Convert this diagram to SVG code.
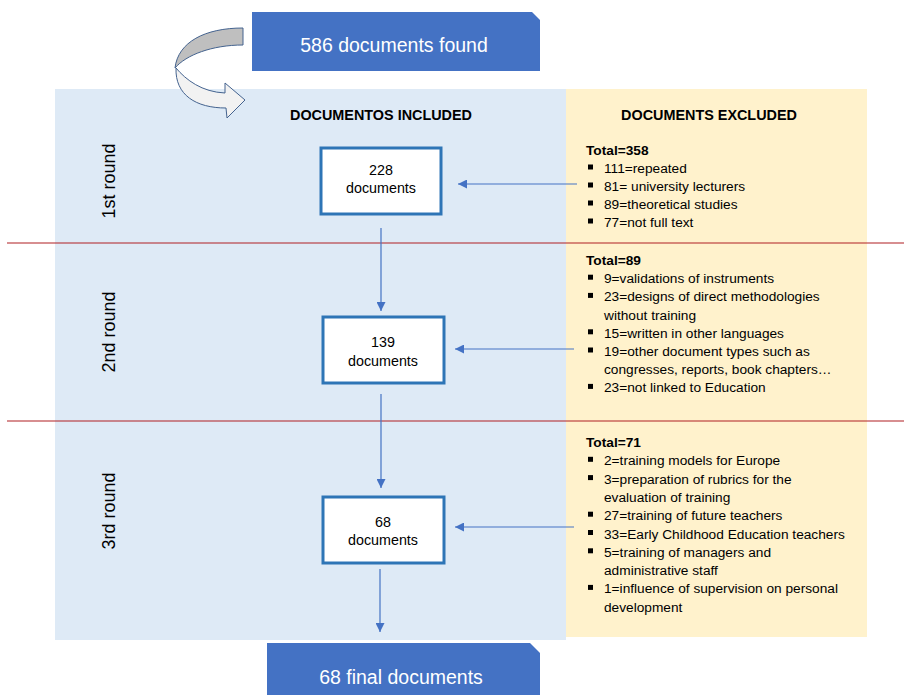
<svg xmlns="http://www.w3.org/2000/svg" width="904" height="695" viewBox="0 0 904 695">
<defs>
<style>
.hdr{font-family:"Liberation Sans",Arial,sans-serif;font-weight:bold;font-size:14.4px;fill:#000;text-anchor:middle}
.big{font-family:"Liberation Sans",Arial,sans-serif;font-size:19.5px;fill:#fff;text-anchor:middle}
.rnd{font-family:"Liberation Sans",Arial,sans-serif;font-size:18px;fill:#000;text-anchor:middle}
.box{fill:#fff;stroke:#2E75B6;stroke-width:3}
.bt{font-family:"Liberation Sans",Arial,sans-serif;font-size:14.3px;fill:#000;text-anchor:middle}
.lt{font-family:"Liberation Sans",Arial,sans-serif;font-size:13.7px;fill:#000}
.tot{font-weight:bold}
.conn{stroke:#4472C4;stroke-width:1.2;fill:none;marker-end:url(#ah)}
.red{stroke:#B01E22;stroke-width:1.2}
</style>
<marker id="ah" markerUnits="userSpaceOnUse" markerWidth="9" markerHeight="9" refX="9" refY="4.5" orient="auto">
<path d="M0,0 L9,4.5 L0,9 Z" fill="#4472C4"/>
</marker>
<symbol id="bl" overflow="visible"><rect x="0" y="-8.5" width="5" height="5" fill="#000"/></symbol>
</defs>
<rect width="904" height="695" fill="#fff"/>
<rect x="55" y="89" width="511" height="551" fill="#DEEAF6"/>
<rect x="566" y="89" width="301" height="548" fill="#FFF2CC"/>
<line class="red" x1="7" y1="243" x2="904" y2="243"/>
<line class="red" x1="7" y1="421" x2="904" y2="421"/>

<g id="curved-arrow">
<path d="M243,28 C205,28 178,42 175,68 C186,55 212,45 243,45 Z" fill="#BFBFBF" stroke="#44638F" stroke-width="1"/>
<path d="M176,68 C186,80 202,92 225,93 L225,83 L245,100 L227,118 L226,108 C196,108 175,95 176,68 Z" fill="#F2F2F2" stroke="#44638F" stroke-width="1"/>
</g>

<g id="found">
<path d="M252,12 H532 L540,20 V71 H252 Z" fill="#4472C4"/>
<text class="big" x="394" y="52">586 documents found</text>
</g>

<text class="hdr" x="381" y="120">DOCUMENTOS INCLUDED</text>
<text class="hdr" x="709" y="120">DOCUMENTS EXCLUDED</text>

<text class="rnd" transform="translate(115,181) rotate(-90)">1st round</text>
<text class="rnd" transform="translate(115,332) rotate(-90)">2nd round</text>
<text class="rnd" transform="translate(115,511) rotate(-90)">3rd round</text>

<g id="box1">
<rect class="box" x="321" y="148" width="120" height="66"/>
<text class="bt" x="381" y="175">228</text>
<text class="bt" x="381" y="193">documents</text>
</g>
<g id="box2">
<rect class="box" x="323" y="317" width="121" height="66"/>
<text class="bt" x="383" y="347">139</text>
<text class="bt" x="383" y="366">documents</text>
</g>
<g id="box3">
<rect class="box" x="323" y="497" width="121" height="66"/>
<text class="bt" x="383" y="527">68</text>
<text class="bt" x="383" y="545">documents</text>
</g>

<g id="excluded1">
<text class="lt tot" x="586" y="155">Total=358</text>
<use href="#bl" x="588" y="173"/><text class="lt" x="604" y="173">111=repeated</text>
<use href="#bl" x="588" y="191"/><text class="lt" x="604" y="191">81= university lecturers</text>
<use href="#bl" x="588" y="209"/><text class="lt" x="604" y="209">89=theoretical studies</text>
<use href="#bl" x="588" y="227"/><text class="lt" x="604" y="227">77=not full text</text>
</g>

<g id="excluded2">
<text class="lt tot" x="586" y="265">Total=89</text>
<use href="#bl" x="588" y="283.2"/><text class="lt" x="604" y="283.2">9=validations of instruments</text>
<use href="#bl" x="588" y="301.4"/><text class="lt" x="604" y="301.4">23=designs of direct methodologies</text>
<text class="lt" x="604" y="319.6">without training</text>
<use href="#bl" x="588" y="337.8"/><text class="lt" x="604" y="337.8">15=written in other languages</text>
<use href="#bl" x="588" y="356"/><text class="lt" x="604" y="356">19=other document types such as</text>
<text class="lt" x="604" y="374.2">congresses, reports, book chapters…</text>
<use href="#bl" x="588" y="392.4"/><text class="lt" x="604" y="392.4">23=not linked to Education</text>
</g>

<g id="excluded3">
<text class="lt tot" x="586" y="447">Total=71</text>
<use href="#bl" x="588" y="465.3"/><text class="lt" x="604" y="465.3">2=training models for Europe</text>
<use href="#bl" x="588" y="483.6"/><text class="lt" x="604" y="483.6">3=preparation of rubrics for the</text>
<text class="lt" x="604" y="501.9">evaluation of training</text>
<use href="#bl" x="588" y="520.2"/><text class="lt" x="604" y="520.2">27=training of future teachers</text>
<use href="#bl" x="588" y="538.5"/><text class="lt" x="604" y="538.5">33=Early Childhood Education teachers</text>
<use href="#bl" x="588" y="556.8"/><text class="lt" x="604" y="556.8">5=training of managers and</text>
<text class="lt" x="604" y="575.1">administrative staff</text>
<use href="#bl" x="588" y="593.4"/><text class="lt" x="604" y="593.4">1=influence of supervision on personal</text>
<text class="lt" x="604" y="611.7">development</text>
</g>

<g id="final">
<path d="M267,643 H530 L540,653 V700 H267 Z" fill="#4472C4"/>
<text class="big" x="401" y="684">68 final documents</text>
</g>

<g id="connectors">
<line class="conn" x1="381" y1="228" x2="381" y2="311"/>
<line class="conn" x1="381" y1="394" x2="381" y2="488"/>
<line class="conn" x1="380" y1="569" x2="380" y2="632"/>
<line class="conn" x1="577" y1="184" x2="458" y2="184"/>
<line class="conn" x1="574" y1="349" x2="455" y2="349"/>
<line class="conn" x1="574" y1="527" x2="455" y2="527"/>
</g>
</svg>
